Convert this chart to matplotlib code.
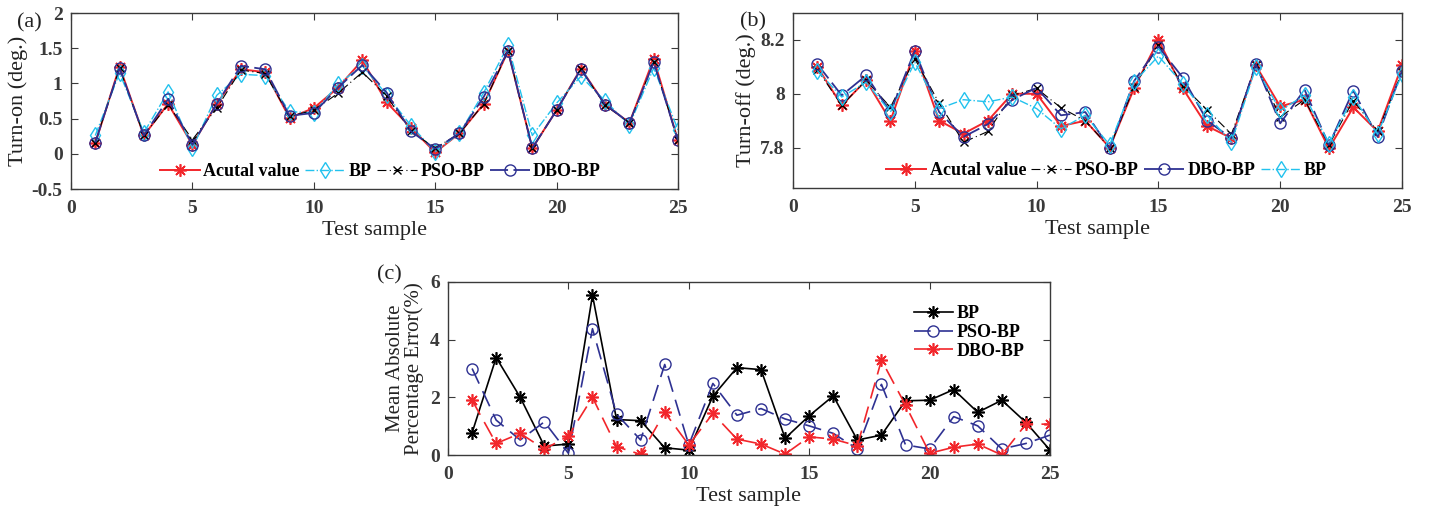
import matplotlib
matplotlib.use("Agg")
from matplotlib import pyplot as plt
from matplotlib.ticker import FormatStrFormatter

plt.rcParams['font.family'] = ['Liberation Serif', 'DejaVu Serif']

samples = list(range(1, 26))

# (a) turn-on
on_actual = [0.15, 1.24, 0.26, 0.71, 0.13, 0.71, 1.20, 1.16, 0.51, 0.65, 0.94, 1.33, 0.73,
             0.37, 0.02, 0.29, 0.71, 1.46, 0.08, 0.62, 1.21, 0.70, 0.44, 1.35, 0.19]
on_bp = [0.26, 1.15, 0.30, 0.88, 0.08, 0.83, 1.13, 1.11, 0.60, 0.58, 0.99, 1.25, 0.84,
         0.40, 0.03, 0.29, 0.87, 1.54, 0.26, 0.72, 1.10, 0.75, 0.41, 1.22, 0.34]
on_pso = [0.16, 1.22, 0.26, 0.70, 0.20, 0.65, 1.19, 1.14, 0.53, 0.62, 0.86, 1.16, 0.82,
          0.32, 0.08, 0.29, 0.71, 1.46, 0.08, 0.62, 1.20, 0.69, 0.44, 1.30, 0.19]
on_dbo = [0.16, 1.22, 0.26, 0.78, 0.13, 0.71, 1.25, 1.20, 0.54, 0.58, 0.94, 1.26, 0.87,
          0.32, 0.07, 0.29, 0.81, 1.46, 0.08, 0.62, 1.20, 0.70, 0.44, 1.30, 0.19]

# (b) turn-off
off_actual = [8.100, 7.957, 8.050, 7.900, 8.157, 7.900, 7.852, 7.900, 8.000, 8.000, 7.880, 7.900, 7.800,
              8.020, 8.200, 8.020, 7.880, 7.835, 8.105, 7.953, 7.978, 7.797, 7.950, 7.860, 8.105]
off_pso = [8.090, 7.957, 8.050, 7.950, 8.130, 7.965, 7.820, 7.860, 7.994, 8.020, 7.948, 7.900, 7.800,
           8.025, 8.180, 8.030, 7.940, 7.850, 8.105, 7.914, 7.978, 7.810, 7.975, 7.860, 8.080]
off_dbo = [8.110, 7.994, 8.068, 7.932, 8.160, 7.932, 7.840, 7.887, 7.978, 8.022, 7.920, 7.932, 7.797,
           8.047, 8.175, 8.060, 7.900, 7.835, 8.110, 7.890, 8.015, 7.810, 8.012, 7.840, 8.086]
off_bp = [8.086, 7.988, 8.043, 7.932, 8.117, 7.945, 7.978, 7.970, 7.988, 7.945, 7.870, 7.920, 7.810,
          8.043, 8.140, 8.037, 7.920, 7.820, 8.098, 7.938, 7.994, 7.815, 7.988, 7.850, 8.074]

# (c) MAPE
mape_bp = [0.77, 3.38, 2.00, 0.31, 0.38, 5.54, 1.23, 1.19, 0.25, 0.17, 2.04, 3.03, 2.96,
           0.58, 1.36, 2.05, 0.52, 0.69, 1.88, 1.90, 2.27, 1.48, 1.90, 1.13, 0.17]
mape_pso = [3.00, 1.21, 0.52, 1.15, 0.06, 4.38, 1.42, 0.52, 3.14, 0.35, 2.48, 1.38, 1.61,
            1.25, 1.01, 0.75, 0.21, 2.45, 0.35, 0.21, 1.33, 1.01, 0.21, 0.40, 0.69]
mape_dbo = [1.90, 0.40, 0.75, 0.20, 0.66, 2.00, 0.29, 0.02, 1.48, 0.35, 1.44, 0.55, 0.38,
            0.03, 0.63, 0.55, 0.32, 3.29, 1.73, 0.06, 0.27, 0.38, 0.00, 1.07, 1.07]

red = '#f2262b'
cyan = '#22c2ee'
navy = '#2e3192'
dark = '#3a3a3a'
asterisk = (8, 2, 0)

W, H = 1429, 508
fig = plt.figure(figsize=(W / 100, H / 100), dpi=100)


def box(l, t, r, b):
    return fig.add_axes([l / W, 1 - b / H, (r - l) / W, (b - t) / H])


def style(ax):
    for s in ax.spines.values():
        s.set_color(dark)
        s.set_linewidth(1.0)
    ax.tick_params(direction='in', top=True, right=True, length=5, colors=dark,
                   labelsize=14, pad=6)
    ax.tick_params(axis='x', pad=8)
    for lab in ax.get_xticklabels() + ax.get_yticklabels():
        lab.set_fontweight('bold')
    ax.set_xlim(0, 25)
    ax.set_xticks([0, 5, 10, 15, 20, 25])
    ax.set_xlabel("Test sample", fontsize=16, color='#222222', labelpad=3)


kw_act = dict(color=red, marker=asterisk, markersize=9, markeredgewidth=1.2, linewidth=1.4,
              linestyle='-', label='Acutal value')
kw_bp = dict(color=cyan, marker='d', markersize=8, markerfacecolor='none', linewidth=1.0,
             linestyle='-.', label='BP')
kw_pso = dict(color='black', marker='x', markersize=6, linewidth=0.8, linestyle=(0, (8, 3, 1, 3)),
              label='PSO-BP')
kw_dbo = dict(color=navy, marker='o', markersize=8, markerfacecolor='none', linewidth=1.3,
              linestyle=(0, (10, 3)), label='DBO-BP')
leg_font = dict(size=13, weight='bold')
leg_kw = dict(ncol=4, loc='lower center', frameon=False, prop=leg_font, handlelength=2.2,
              handletextpad=0.2, columnspacing=0.3, borderaxespad=0.1)

# (a)
ax1 = box(71, 13, 678, 189)
ax1.plot(samples, on_actual, **kw_act)
ax1.plot(samples, on_bp, **kw_bp)
ax1.plot(samples, on_pso, **kw_pso)
ax1.plot(samples, on_dbo, **kw_dbo)
ax1.set_ylim(-0.5, 2)
ax1.set_yticks([-0.5, 0, 0.5, 1, 1.5, 2])
ax1.yaxis.set_major_formatter(FormatStrFormatter('%g'))
style(ax1)
ax1.set_ylabel("Turn-on (deg.)", fontsize=16, color='#222222', labelpad=3)
ax1.legend(bbox_to_anchor=(0.51, 0.0), **leg_kw)
fig.text(17 / W, 1 - 27 / H, "(a)", fontsize=16, color='#222222')

# (b)
ax2 = box(793, 13, 1402, 188)
ax2.plot(samples, off_actual, **kw_act)
ax2.plot(samples, off_pso, **kw_pso)
ax2.plot(samples, off_dbo, **kw_dbo)
ax2.plot(samples, off_bp, **kw_bp)
ax2.set_ylim(7.65, 8.3)
ax2.set_yticks([7.8, 8.0, 8.2])
ax2.yaxis.set_major_formatter(FormatStrFormatter('%g'))
style(ax2)
ax2.set_ylabel("Turn-off (deg.)", fontsize=16, color='#222222', labelpad=3)
ax2.legend(bbox_to_anchor=(0.515, 0.0), **leg_kw)
fig.text(740 / W, 1 - 26 / H, "(b)", fontsize=16, color='#222222')

# (c)
ax3 = box(448, 282, 1050, 455)
ax3.plot(samples, mape_bp, color='black', marker=asterisk, markersize=9, markeredgewidth=1.2,
         linewidth=1.2, label='BP')
ax3.plot(samples, mape_pso, color=navy, marker='o', markersize=8, markerfacecolor='none',
         linewidth=1.2, linestyle=(0, (10, 5)), label='PSO-BP')
ax3.plot(samples, mape_dbo, color=red, marker=asterisk, markersize=9, markeredgewidth=1.2,
         linewidth=1.2, linestyle=(0, (10, 5)), label='DBO-BP')
ax3.set_ylim(0, 6)
ax3.set_yticks([0, 2, 4, 6])
style(ax3)
ax3.set_ylabel("Mean Absolute\nPercentage Error(%)", fontsize=15, color='#222222',
               labelpad=4, linespacing=1.0)
ax3.legend(loc='upper right', bbox_to_anchor=(0.985, 0.96), frameon=False, prop=leg_font,
           handlelength=2.2, handletextpad=0.2, labelspacing=0.1)
fig.text(377 / W, 1 - 279 / H, "(c)", fontsize=16, color='#222222')

fig.savefig("out.png", dpi=100)
